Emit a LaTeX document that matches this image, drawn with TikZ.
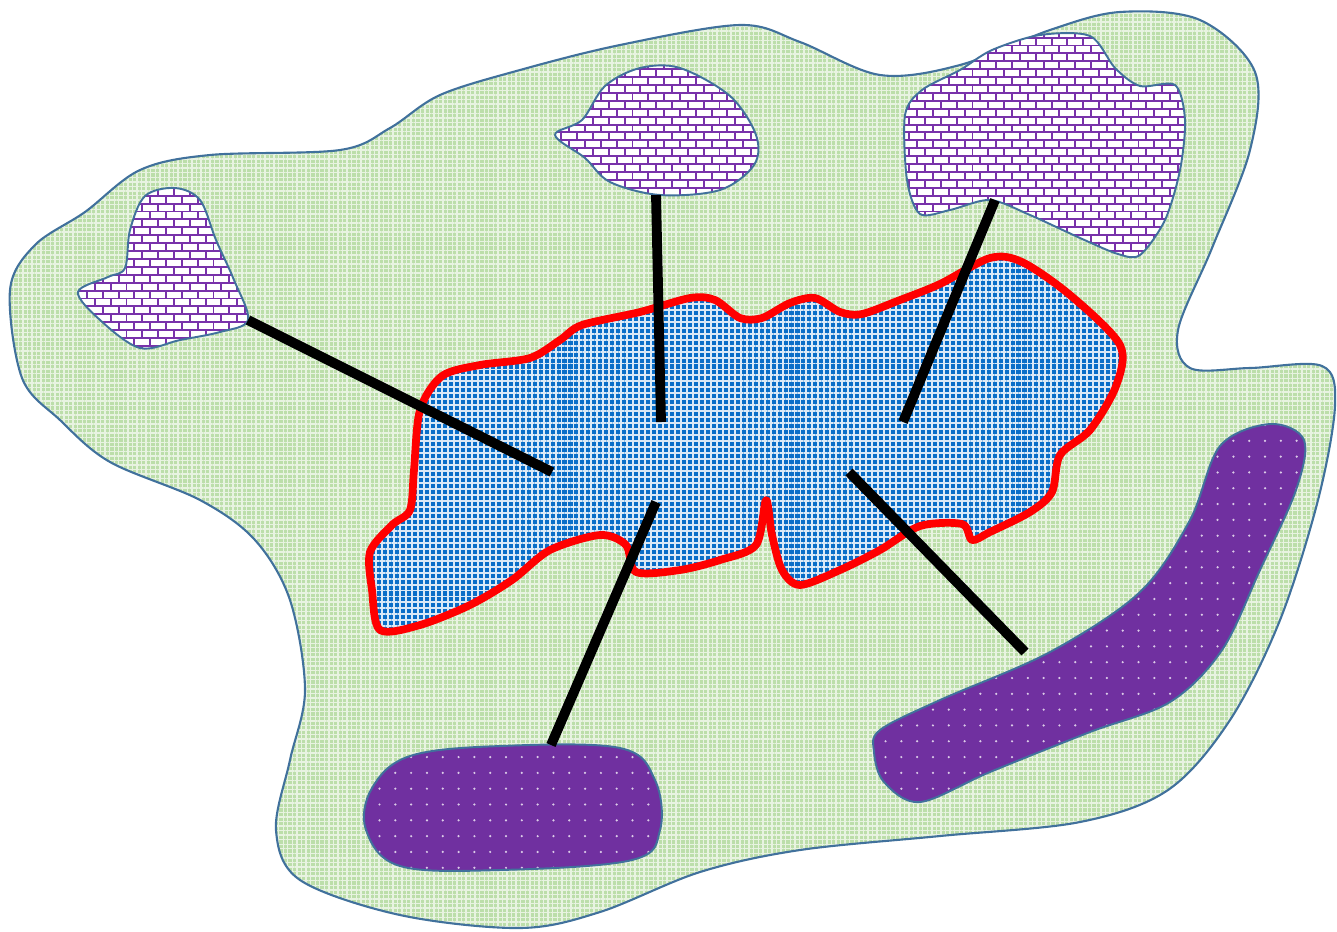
\documentclass[tikz,border=0pt]{standalone}
\usetikzlibrary{patterns.meta}

\definecolor{edgeblue}{RGB}{65,113,156}
\definecolor{landgreen}{RGB}{188,222,170}
\definecolor{pondblue}{RGB}{10,110,200}
\definecolor{brickpurple}{RGB}{120,50,170}
\definecolor{patchpurple}{RGB}{112,48,160}

% brick wall fill
\pgfdeclarepattern{
  name=wallbricks,
  type=uncolored,
  bottom left={\pgfpoint{-1pt}{-1pt}},
  top right={\pgfpoint{10pt}{10pt}},
  tile size={\pgfpoint{9pt}{9pt}},
  code={
    \pgfsetlinewidth{1.1pt}
    \pgfpathmoveto{\pgfpoint{0pt}{0pt}}\pgfpathlineto{\pgfpoint{9pt}{0pt}}
    \pgfpathmoveto{\pgfpoint{0pt}{4.5pt}}\pgfpathlineto{\pgfpoint{9pt}{4.5pt}}
    \pgfpathmoveto{\pgfpoint{0pt}{9pt}}\pgfpathlineto{\pgfpoint{9pt}{9pt}}
    \pgfpathmoveto{\pgfpoint{4.5pt}{0pt}}\pgfpathlineto{\pgfpoint{4.5pt}{4.5pt}}
    \pgfpathmoveto{\pgfpoint{0pt}{4.5pt}}\pgfpathlineto{\pgfpoint{0pt}{9pt}}
    \pgfpathmoveto{\pgfpoint{9pt}{4.5pt}}\pgfpathlineto{\pgfpoint{9pt}{9pt}}
    \pgfusepath{stroke}
  }
}

\begin{document}
\begin{tikzpicture}[x=0.02cm, y=-0.02cm,
        land/.style={draw=edgeblue, line width=1.2pt, preaction={fill=landgreen},
            pattern={Hatch[distance=2.6pt, line width=0.8pt, angle=0]}, pattern color=white!65!landgreen},
        pond/.style={draw=red, line width=4.4pt, line join=round, preaction={fill=pondblue},
            pattern={Hatch[distance=3.4pt, line width=1.1pt, angle=0]}, pattern color=white!85!pondblue},
        rock/.style={draw=edgeblue, line width=1.1pt, preaction={fill=white},
            pattern=wallbricks, pattern color=brickpurple},
        patch/.style={draw=edgeblue, line width=1.1pt, preaction={fill=patchpurple},
            pattern={Dots[distance=9pt, radius=0.7pt]}, pattern color=white!75!patchpurple},
        road/.style={line width=5.6pt, black}
    ]
    \useasboundingbox (0,0) rectangle (1337,931);

    % surrounding land
    \draw[land] plot[smooth cycle, tension=0.55] coordinates {
        (22,378) (10,290) (35,245) (85,212) (140,170) (210,155) (340,150) (390,128)
        (440,95) (520,70) (620,45) (740,25) (800,42) (880,75) (960,65) (1050,30)
        (1120,12) (1200,20) (1255,72) (1250,150) (1212,248) (1178,330) (1190,368)
        (1250,368) (1322,366) (1335,405) (1318,500) (1280,620) (1230,720) (1168,790)
        (1080,822) (940,836) (800,850) (700,872) (600,912) (520,928) (400,915)
        (300,880) (276,830) (290,760) (305,690) (290,600) (255,540) (200,500)
        (110,462) (60,420)};

    % central pond
    \draw[pond] plot[smooth cycle, tension=0.5] coordinates {
        (420,410) (442,376) (480,365) (530,358) (560,340) (582,325) (640,312)
        (690,298) (715,300) (740,318) (762,318) (790,303) (815,298) (840,312)
        (862,314) (900,300) (940,284) (990,258) (1022,262) (1070,295) (1120,345)
        (1116,386) (1090,430) (1060,455) (1052,492) (1030,512) (990,532) (972,540)
        (962,524) (920,526) (880,550) (840,570) (800,585) (782,570) (772,535)
        (766,500) (756,545) (720,560) (680,570) (636,572) (626,545) (600,535)
        (550,550) (512,580) (470,605) (420,625) (380,630) (372,590) (370,552)
        (392,525) (410,510) (414,470)};

    % rocky outcrops
    \draw[rock] plot[smooth cycle, tension=0.55] coordinates {
        (78,292) (108,277) (125,268) (130,230) (145,196) (175,188) (200,200)
        (216,240) (234,280) (248,320) (220,332) (180,340) (140,348) (100,320)};
    \draw[rock] plot[smooth cycle, tension=0.55] coordinates {
        (555,135) (582,120) (605,86) (640,68) (680,68) (730,96) (756,135)
        (754,165) (720,190) (660,195) (610,182) (585,158)};
    \draw[rock] plot[smooth cycle, tension=0.5] coordinates {
        (905,115) (922,90) (960,70) (992,50) (1040,35) (1090,36) (1115,68)
        (1140,86) (1175,85) (1185,120) (1180,170) (1165,220) (1140,255) (1118,254)
        (1080,238) (1030,215) (990,200) (950,210) (920,214) (907,180)};

    % purple fields
    \draw[patch] plot[smooth cycle, tension=0.6] coordinates {
        (372,788) (410,756) (500,746) (620,748) (655,780) (660,830) (632,860)
        (500,870) (400,866) (366,830)};
    \draw[patch] plot[smooth cycle, tension=0.55] coordinates {
        (880,730) (940,700) (1050,652) (1140,592) (1190,520) (1220,446) (1270,424)
        (1304,440) (1296,490) (1260,570) (1222,650) (1170,702) (1090,732) (990,772)
        (920,802) (884,782) (874,752)};

    % tracks to the pond
    \draw[road] (248,320) -- (552,472);
    \draw[road] (656,195) -- (661,422);
    \draw[road] (995,200) -- (903,422);
    \draw[road] (656,502) -- (551,745);
    \draw[road] (849,472) -- (1025,652);
\end{tikzpicture}
\end{document}
